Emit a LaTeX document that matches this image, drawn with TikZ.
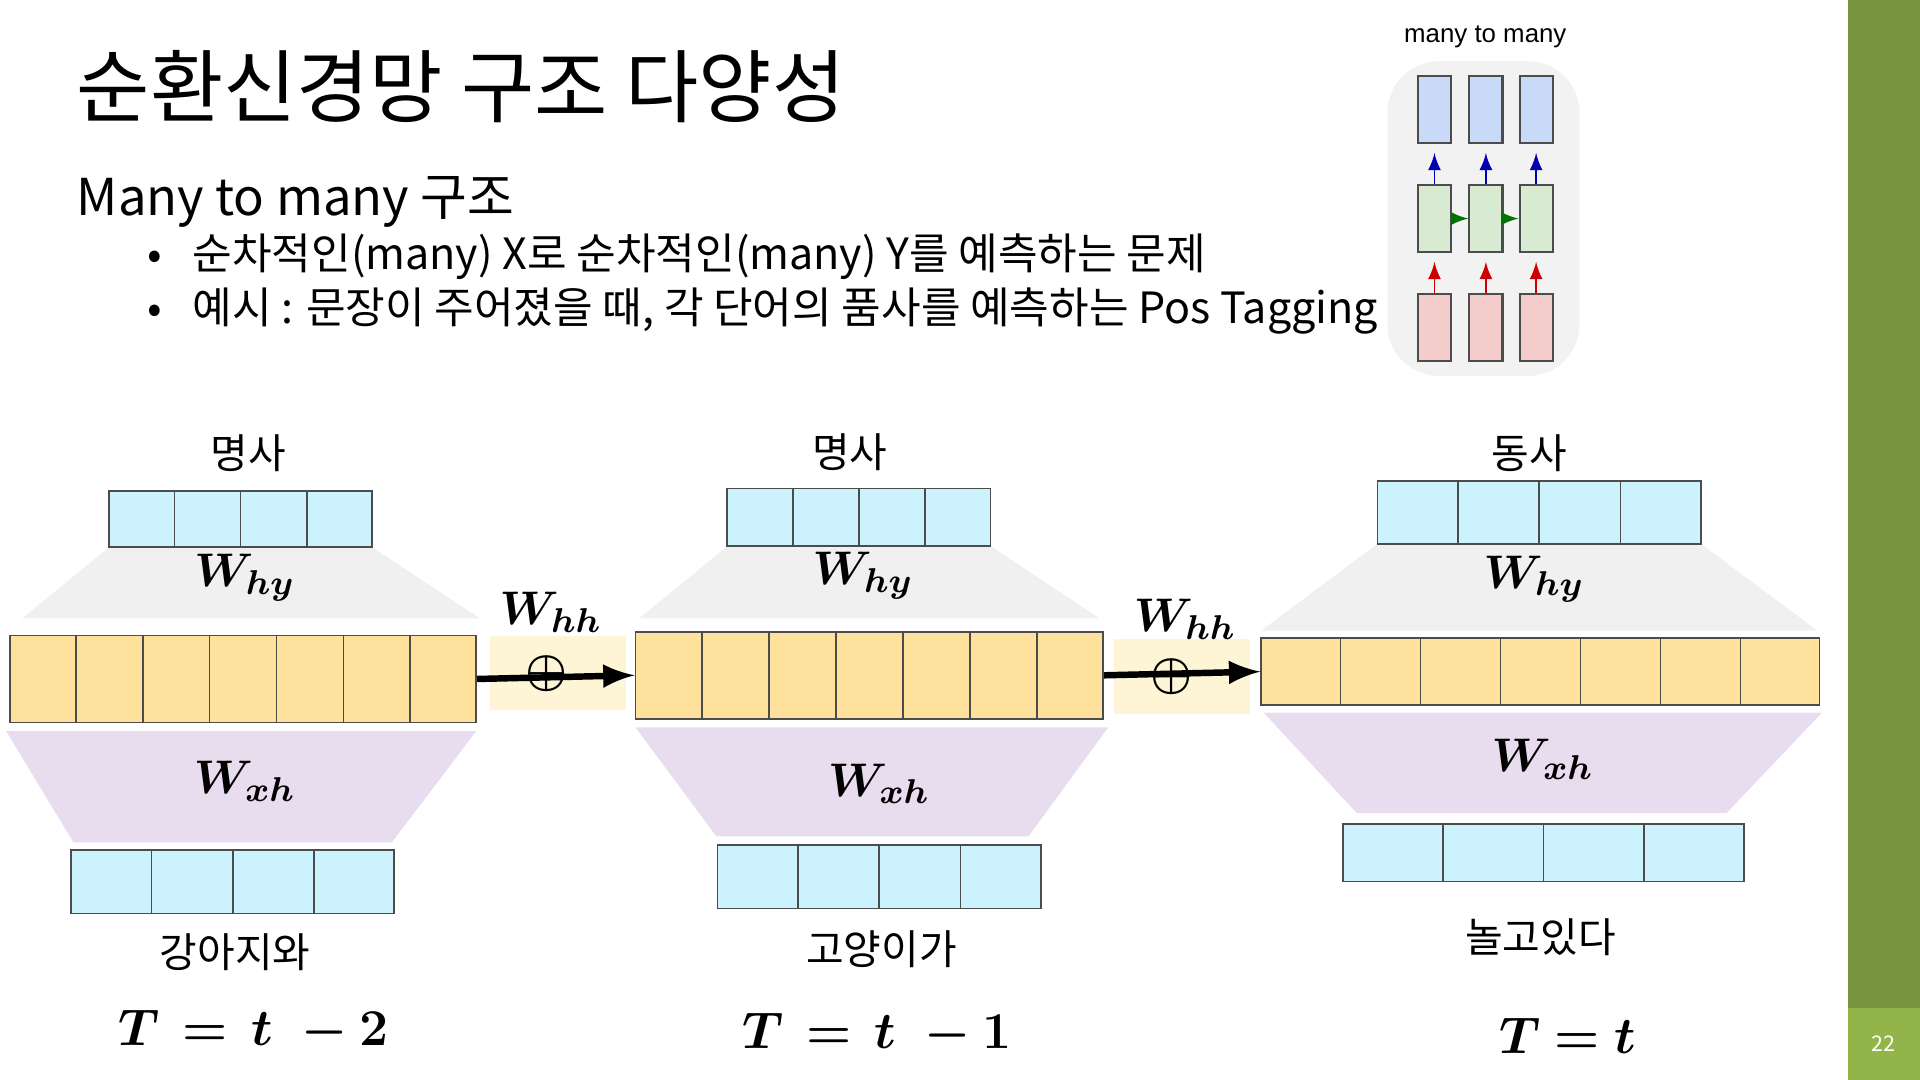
\documentclass[tikz,border=0pt]{standalone}
\usepackage{amsmath}
\usepackage{bm}
\usepackage{fontspec}
\setmainfont{Noto Sans CJK KR}
\newfontfamily\insetfont{Liberation Sans}
\usetikzlibrary{fit,calc}

\definecolor{cellblue}{HTML}{CCF2FD}
\definecolor{cellyellow}{HTML}{FDE19C}
\definecolor{trapgray}{HTML}{F0F0F0}
\definecolor{trappurple}{HTML}{E8DDEE}
\definecolor{linkyellow}{HTML}{FEF5D6}
\definecolor{barolive}{HTML}{77933C}
\definecolor{barlight}{HTML}{92B448}
\definecolor{inblue}{HTML}{C9DAF8}
\definecolor{ingreen}{HTML}{D9EAD3}
\definecolor{inred}{HTML}{F4CCCC}

\tikzset{
	cellbar/.style = {draw = black!70, inner sep = 0pt},
	wlabel/.style = {font = \fontsize{11}{13}\selectfont},
	word/.style = {font = \fontsize{9.5}{11}\selectfont},
	tlabel/.style = {font = \fontsize{12}{14}\selectfont},
	small/.style = {draw = black!70, line width = 0.5pt},
}

% bar of cells: name, fill, x1, y1, x2, y2, cells
\newcommand{\mkbar}[7]{
	\node[cellbar, fill = #2, fit = {(#3,#4)(#5,#6)}] (#1) {};
	\foreach \i in {1,...,#7}{
		\ifnum\i<#7
		\draw[black!70] ($(#1.north west)!\i/#7!(#1.north east)$) -- ($(#1.south west)!\i/#7!(#1.south east)$);
		\fi
	}
}

\begin{document}
\begin{tikzpicture}[x = 0.01cm, y = -0.01cm]
	\useasboundingbox (0,0) rectangle (1568,882);

	% side bar
	\fill[barolive] (1509,0) rectangle (1568,882);
	\fill[barlight] (1509,823) rectangle (1568,882);
	\node[white, font = \fontsize{5}{6}\selectfont] (page) at (1538,852) {22};

	% title and text
	\node[anchor = base west, inner sep = 0pt, font = \fontsize{18.5}{22}\selectfont] (title) at (62,95) {순환신경망 구조 다양성};
	\node[anchor = base west, inner sep = 0pt, font = \fontsize{11.8}{14}\selectfont] (sub) at (62,176) {Many to many 구조};
	\node[anchor = base west, inner sep = 0pt, font = \fontsize{10}{12}\selectfont] (item1) at (120,220) {•\hspace{0.7em}순차적인(many) X로 순차적인(many) Y를 예측하는 문제};
	\node[anchor = base west, inner sep = 0pt, font = \fontsize{10}{12}\selectfont] (item2) at (120,264) {•\hspace{0.7em}예시 : 문장이 주어졌을 때, 각 단어의 품사를 예측하는 Pos Tagging};

	% inset
	\node[font = \insetfont\fontsize{6}{7}\selectfont] (inlabel) at (1213,30) {many to many};
	\fill[black!5, rounded corners = 12pt] (1133,50) rectangle (1290,307);
	\foreach \x [count = \k] in {1158,1200,1241}{
		\node[small, fill = inblue, fit = {(\x,62)(\x+27,117)}, inner sep = 0pt] (out\k) {};
		\node[small, fill = ingreen, fit = {(\x,151)(\x+27,206)}, inner sep = 0pt] (mid\k) {};
		\node[small, fill = inred, fit = {(\x,240)(\x+27,295)}, inner sep = 0pt] (in\k) {};
		\draw[-latex, blue!70!black] (mid\k.north) -- ([yshift = -2pt]out\k.south);
		\draw[-latex, red!80!black] (in\k.north) -- ([yshift = -2pt]mid\k.south);
	}
	\draw[-latex, green!45!black] (mid1.east) -- (mid2.west);
	\draw[-latex, green!45!black] (mid2.east) -- (mid3.west);

	% trapezoids
	\fill[trapgray] (89,447) -- (304,447) -- (392,505) -- (18,505) -- cycle;
	\fill[trappurple] (5,597) -- (389,597) -- (320,688) -- (60,688) -- cycle;
	\fill[trapgray] (594,446) -- (809,446) -- (898,505) -- (522,505) -- cycle;
	\fill[trappurple] (519,594) -- (905,594) -- (840,683) -- (585,683) -- cycle;
	\fill[trapgray] (1125,444) -- (1389,444) -- (1484,515) -- (1030,515) -- cycle;
	\fill[trappurple] (1032,582) -- (1488,582) -- (1410,664) -- (1108,664) -- cycle;

	% links
	\fill[linkyellow] (400,519) rectangle (511,580);
	\fill[linkyellow] (910,522) rectangle (1021,583);

	% bars
	\mkbar{y1}{cellblue}{89}{401}{304}{447}{4}
	\mkbar{h1}{cellyellow}{8}{519}{389}{590}{7}
	\mkbar{x1}{cellblue}{58}{694}{322}{746}{4}
	\mkbar{y2}{cellblue}{594}{399}{809}{446}{4}
	\mkbar{h2}{cellyellow}{519}{516}{901}{587}{7}
	\mkbar{x2}{cellblue}{586}{690}{850}{742}{4}
	\mkbar{y3}{cellblue}{1125}{393}{1389}{444}{4}
	\mkbar{h3}{cellyellow}{1030}{521}{1486}{576}{7}
	\mkbar{x3}{cellblue}{1097}{673}{1424}{720}{4}

	% recurrent arrows
	\draw[-latex, line width = 1.5pt] (h1.east) -- (h2.west);
	\draw[-latex, line width = 1.5pt] (h2.east) -- (h3.west);
	\node[wlabel] (plus1) at (446,550) {$\bm{\oplus}$};
	\node[wlabel] (plus2) at (957,553) {$\bm{\oplus}$};
	\node[wlabel] (whh1) at (450,500) {$\bm{W_{hh}}$};
	\node[wlabel] (whh2) at (968,506) {$\bm{W_{hh}}$};

	% weights
	\node[wlabel] (why1) at (200,472) {$\bm{W_{hy}}$};
	\node[wlabel] (wxh1) at (200,638) {$\bm{W_{xh}}$};
	\node[wlabel] (why2) at (705,470) {$\bm{W_{hy}}$};
	\node[wlabel] (wxh2) at (718,640) {$\bm{W_{xh}}$};
	\node[wlabel] (why3) at (1253,473) {$\bm{W_{hy}}$};
	\node[wlabel] (wxh3) at (1260,620) {$\bm{W_{xh}}$};

	% words
	\node[word] (tag1) at (203,370) {명사};
	\node[word] (tag2) at (694,369) {명사};
	\node[word] (tag3) at (1249,370) {동사};
	\node[word] (tok1) at (192,778) {강아지와};
	\node[word] (tok2) at (720,775) {고양이가};
	\node[word] (tok3) at (1258,765) {놀고있다};

	% time steps
	\node[tlabel] (t1) at (207,842) {$\bm{T\,=\,t\,\,-2}$};
	\node[tlabel] (t2) at (716,845) {$\bm{T\,=\,t\,\,-1}$};
	\node[tlabel] (t3) at (1280,846) {$\bm{T=t}$};
\end{tikzpicture}
\end{document}
